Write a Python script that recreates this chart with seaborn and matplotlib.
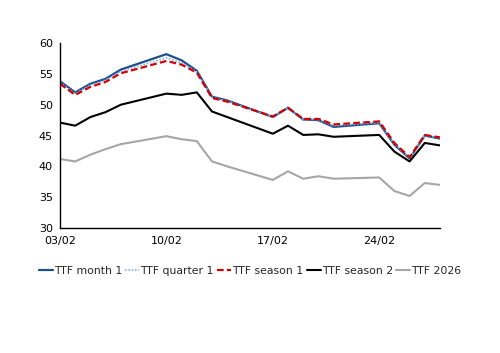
import numpy as np
import matplotlib
matplotlib.use("Agg")
import matplotlib.pyplot as plt
import matplotlib.dates as mdates
import seaborn as sns
import pandas as pd

# trading days, Feb 2025
dates = pd.to_datetime([
    "2025-02-03", "2025-02-04", "2025-02-05", "2025-02-06", "2025-02-07",
    "2025-02-10", "2025-02-11", "2025-02-12", "2025-02-13", "2025-02-14",
    "2025-02-17", "2025-02-18", "2025-02-19", "2025-02-20", "2025-02-21",
    "2025-02-24", "2025-02-25", "2025-02-26", "2025-02-27", "2025-02-28",
])

ttf_month1 = [53.8, 52.0, 53.4, 54.2, 55.7, 58.2, 57.2, 55.5, 51.3, 50.7,
              48.0, 49.5, 47.6, 47.5, 46.4, 47.0, 43.5, 41.3, 45.0, 44.5]
ttf_quarter1 = [53.6, 51.8, 53.2, 54.0, 55.4, 57.6, 56.8, 55.3, 51.2, 50.6,
                48.0, 49.5, 47.6, 47.6, 46.6, 47.1, 43.6, 41.4, 45.0, 44.6]
ttf_season1 = [53.4, 51.6, 52.9, 53.7, 55.1, 57.1, 56.5, 55.2, 51.1, 50.5,
               48.1, 49.5, 47.7, 47.7, 46.8, 47.3, 43.8, 41.5, 45.1, 44.7]
ttf_season2 = [47.1, 46.6, 48.0, 48.8, 50.0, 51.8, 51.6, 52.0, 48.9, 48.0,
               45.3, 46.6, 45.1, 45.2, 44.8, 45.1, 42.4, 40.8, 43.8, 43.4]
ttf_2026 = [41.2, 40.8, 41.9, 42.8, 43.6, 44.9, 44.4, 44.1, 40.8, 40.0,
            37.8, 39.2, 38.0, 38.4, 38.0, 38.2, 36.0, 35.2, 37.3, 37.0]

series_names = ["TTF month 1", "TTF quarter 1", "TTF season 1", "TTF season 2", "TTF 2026"]
series_vals = [ttf_month1, ttf_quarter1, ttf_season1, ttf_season2, ttf_2026]

styles = {
    "TTF month 1": dict(color="#1F4E8C", ls="-", lw=1.6),
    "TTF quarter 1": dict(color="#7FB2E5", ls=(0, (1, 1)), lw=1.2),
    "TTF season 1": dict(color="#D40000", ls=(0, (3, 1.5)), lw=1.6),
    "TTF season 2": dict(color="#000000", ls="-", lw=1.5),
    "TTF 2026": dict(color="#A6A6A6", ls="-", lw=1.5),
}

sns.set_style("white")
plt.rcParams["font.family"] = ["DejaVu Sans"]

fig = plt.figure(figsize=(5, 3.53), dpi=100)
ax = fig.add_axes([0.12, 0.354, 0.76, 0.524])

for name, vals in zip(series_names, series_vals):
    st = styles[name]
    sns.lineplot(x=dates, y=vals, ax=ax, label=name, color=st["color"],
                 linestyle=st["ls"], linewidth=st["lw"])

ax.set_ylim(30, 60)
ax.set_yticks(range(30, 61, 5))
ax.set_xlim(dates[0], dates[-1])
ax.xaxis.set_major_locator(mdates.DayLocator(bymonthday=[3, 10, 17, 24]))
ax.xaxis.set_major_formatter(mdates.DateFormatter("%d/%m"))
ax.set_xlabel("")
ax.set_ylabel("")

for s in ["top", "right"]:
    ax.spines[s].set_visible(False)
for s in ["left", "bottom"]:
    ax.spines[s].set_color("black")
    ax.spines[s].set_linewidth(1.0)
ax.tick_params(axis="both", which="major", length=4, width=1, direction="inout",
               labelsize=8, colors="black")
ax.tick_params(axis="x", pad=4)
ax.tick_params(axis="y", pad=3)

ax.legend(loc="upper center", bbox_to_anchor=(0.5, -0.18), ncol=5, frameon=False,
          fontsize=7.8, handlelength=1.3, handletextpad=0.1, columnspacing=0.3,
          borderaxespad=0)

fig.savefig("out.png", dpi=100)
